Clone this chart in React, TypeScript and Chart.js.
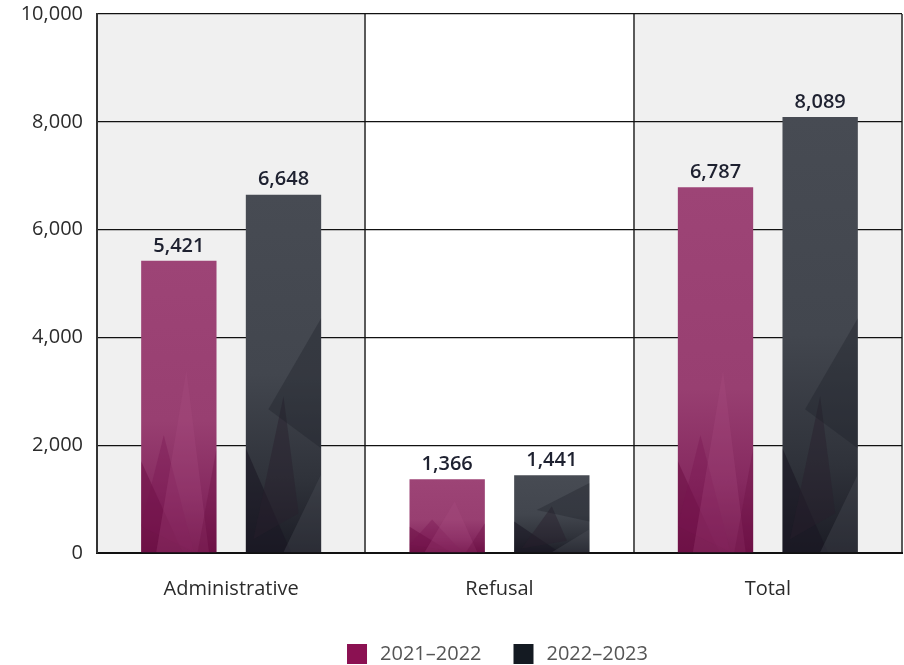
import React, { useEffect, useRef } from "react";
import { Chart, registerables } from "chart.js";

Chart.register(...registerables);

const categories = ["Administrative", "Refusal", "Total"];
const seriesLabels = ["2021–2022", "2022–2023"];
const values2122 = [5421, 1366, 6787];
const values2223 = [6648, 1441, 8089];
const yTicks = [0, 2000, 4000, 6000, 8000, 10000];

const FONT = "'Open Sans', Lato, sans-serif";
const legendColors = ["#8b1152", "#141a22"];
const gradStops = [
  [
    [0, "#9d4476"],
    [0.55, "#983f71"],
    [0.8, "#862a60"],
    [1, "#6e1147"],
  ],
  [
    [0, "#474b53"],
    [0.5, "#42464e"],
    [0.8, "#2f323a"],
    [1, "#1b1c25"],
  ],
];

// decorative facets, relative to bar (u: 0..1 across, v: 0..1 from base up)
const facets = [
  [
    { c: "rgba(110,16,70,0.55)", p: [[0, 0], [0.55, 0], [0, 0.35]] },
    { c: "rgba(120,20,80,0.35)", p: [[0, 0.1], [0.7, 0.0], [0.3, 0.45]] },
    { c: "rgba(170,80,130,0.25)", p: [[0.2, 0], [0.6, 0.7], [0.9, 0]] },
    { c: "rgba(110,16,70,0.35)", p: [[0.75, 0], [1, 0.4], [1, 0]] },
  ],
  [
    { c: "rgba(25,22,35,0.55)", p: [[0, 0], [0.6, 0], [0, 0.4]] },
    { c: "rgba(40,30,45,0.45)", p: [[0.1, 0.05], [0.5, 0.6], [0.7, 0.15]] },
    { c: "rgba(30,32,40,0.35)", p: [[0.3, 0.55], [1, 0.9], [1, 0.4]] },
    { c: "rgba(90,95,105,0.25)", p: [[0.5, 0], [1, 0.3], [1, 0]] },
  ],
];

const bandPlugin = {
  id: "bands",
  beforeDraw(chart: any) {
    const { ctx, chartArea } = chart;
    const w = (chartArea.right - chartArea.left) / categories.length;
    ctx.save();
    for (let i = 0; i < categories.length; i++) {
      if (i % 2 === 0) {
        ctx.fillStyle = "#f0f0f0";
        ctx.fillRect(chartArea.left + i * w, chartArea.top, w, chartArea.bottom - chartArea.top);
      }
    }
    ctx.restore();
  },
};

const facetPlugin = {
  id: "facets",
  afterDatasetsDraw(chart: any) {
    const ctx = chart.ctx;
    chart.data.datasets.forEach((ds: any, di: number) => {
      const meta = chart.getDatasetMeta(di);
      meta.data.forEach((bar: any) => {
        const left = bar.x - bar.width / 2;
        const h = bar.base - bar.y;
        ctx.save();
        ctx.beginPath();
        ctx.rect(left, bar.y, bar.width, h);
        ctx.clip();
        facets[di].forEach((f) => {
          ctx.beginPath();
          f.p.forEach(([u, v], k) => {
            const px = left + u * bar.width;
            const py = bar.base - v * Math.min(h, 260);
            if (k === 0) ctx.moveTo(px, py);
            else ctx.lineTo(px, py);
          });
          ctx.closePath();
          ctx.fillStyle = f.c;
          ctx.fill();
        });
        ctx.restore();
      });
    });
    // value labels
    ctx.save();
    ctx.font = `600 20px ${FONT}`;
    ctx.fillStyle = "#1e2130";
    ctx.textAlign = "center";
    ctx.textBaseline = "bottom";
    chart.data.datasets.forEach((ds: any, di: number) => {
      const meta = chart.getDatasetMeta(di);
      meta.data.forEach((bar: any, i: number) => {
        ctx.fillText(ds.data[i].toLocaleString("en-US"), bar.x, bar.y - 5);
      });
    });
    ctx.restore();
  },
};

const legendPlugin = {
  id: "customLegend",
  afterDraw(chart: any) {
    const { ctx, chartArea } = chart;
    ctx.save();
    ctx.font = `20px ${FONT}`;
    const box = 20;
    const gap = 13;
    const itemGap = 32;
    const widths = seriesLabels.map((t) => box + gap + ctx.measureText(t).width);
    const total = widths.reduce((a, b) => a + b, 0) + itemGap * (seriesLabels.length - 1);
    let x = (chartArea.left + chartArea.right) / 2 - 2 - total / 2;
    const cy = 654;
    seriesLabels.forEach((t, i) => {
      ctx.fillStyle = legendColors[i];
      ctx.fillRect(x, cy - box / 2, box, box);
      ctx.fillStyle = "#555555";
      ctx.textAlign = "left";
      ctx.textBaseline = "middle";
      ctx.fillText(t, x + box + gap, cy);
      x += widths[i] + itemGap;
    });
    ctx.restore();
  },
};

function makeBg(di: number) {
  return (context: any) => {
    const chart = context.chart;
    const y = chart.scales?.y;
    if (!y || context.dataIndex === undefined) return gradStops[di][0][1];
    const v = context.raw as number;
    const top = y.getPixelForValue(v);
    const base = y.getPixelForValue(0);
    if (!isFinite(top) || !isFinite(base) || top === base) return gradStops[di][0][1];
    const g = chart.ctx.createLinearGradient(0, top, 0, base);
    gradStops[di].forEach(([s, c]: any) => g.addColorStop(s, c));
    return g;
  };
}

export default function App() {
  const ref = useRef<HTMLCanvasElement>(null);
  useEffect(() => {
    if (!ref.current) return;
    const chart = new Chart(ref.current, {
      type: "bar",
      data: {
        labels: categories,
        datasets: [
          { label: seriesLabels[0], data: values2122, backgroundColor: makeBg(0) as any, categoryPercentage: 0.78, barPercentage: 0.72 },
          { label: seriesLabels[1], data: values2223, backgroundColor: makeBg(1) as any, categoryPercentage: 0.78, barPercentage: 0.72 },
        ],
      },
      options: {
        animation: false,
        responsive: true,
        maintainAspectRatio: false,
        layout: { padding: { top: 14, right: 2, left: 0, bottom: 0 } },
        plugins: {
          tooltip: { enabled: false },
          legend: { display: false },
        },
        scales: {
          x: {
            grid: { display: true, offset: true, color: "#5a5a5a", lineWidth: 2, drawTicks: false },
            border: { display: true, color: "#111111", width: 2 },
            ticks: { color: "#2b2b2b", font: { family: FONT, size: 20 }, padding: 24 },
            afterFit: (s: any) => {
              s.height = 112;
              s.paddingLeft = 0;
              s.paddingRight = 0;
            },
          },
          y: {
            min: 0,
            max: 10000,
            afterBuildTicks: (s: any) => {
              s.ticks = yTicks.map((v) => ({ value: v }));
            },
            grid: { color: "#111111", lineWidth: 1.3, drawTicks: false },
            border: { display: true, color: "#333333", width: 2 },
            ticks: {
              color: "#2b2b2b",
              font: { family: FONT, size: 20 },
              padding: 14,
              callback: (v: any) => Number(v).toLocaleString("en-US"),
            },
            afterFit: (s: any) => {
              s.width = 97;
              s.paddingTop = 0;
              s.paddingBottom = 0;
            },
          },
        },
      },
      plugins: [bandPlugin, facetPlugin, legendPlugin],
    });
    return () => chart.destroy();
  }, []);
  return (
    <div style={{ position: "fixed", left: 0, top: 0, width: 904, height: 665, background: "#ffffff" }}>
      <canvas ref={ref} />
    </div>
  );
}
